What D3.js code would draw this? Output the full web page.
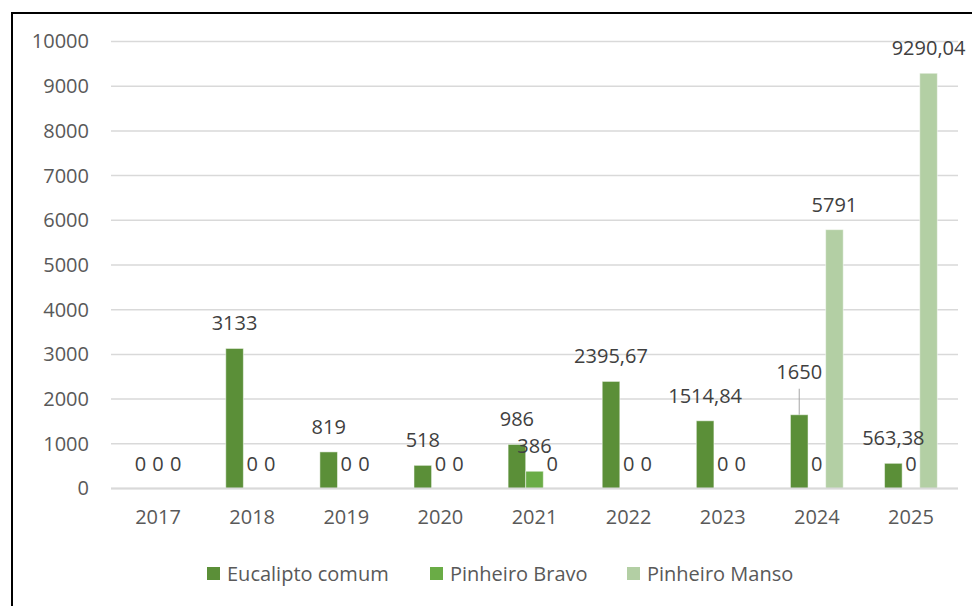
<!doctype html>
<html>
<head>
  <meta charset="utf-8">
  <script src="https://cdnjs.cloudflare.com/ajax/libs/d3/7.8.5/d3.min.js"></script>
  <style>
    body { margin: 0; background: #fff; }
    svg { display: block; font-family: "Open Sans", "Liberation Sans", Arial, sans-serif; }
  </style>
  <title>Chart</title>
</head>
<body>
<svg width="972" height="606"></svg>
<script>
  // data
  var years = ["2017", "2018", "2019", "2020", "2021", "2022", "2023", "2024", "2025"];
  var seriesNames = ["Eucalipto comum", "Pinheiro Bravo", "Pinheiro Manso"];
  var eucalipto = [0, 3133, 819, 518, 986, 2395.67, 1514.84, 1650, 563.38];
  var bravo = [0, 0, 0, 0, 386, 0, 0, 0, 0];
  var manso = [0, 0, 0, 0, 0, 0, 0, 5791, 9290.04];
  var yTicks = [0, 1000, 2000, 3000, 4000, 5000, 6000, 7000, 8000, 9000, 10000];
  var colors = ["#5b8f38", "#6aac46", "#b3cfa4"];

  var FONT = "Open Sans, Liberation Sans, Arial, sans-serif";
  var svg = d3.select("svg");

  // outer frame (runs off the right/bottom of the shot)
  svg.append("rect")
    .attr("x", 12).attr("y", 13)
    .attr("width", 990).attr("height", 640)
    .attr("fill", "none")
    .attr("stroke", "#000")
    .attr("stroke-width", 2);

  var plotL = 111, plotR = 958, plotT = 41.5, plotB = 488.5;

  var x = d3.scaleBand().domain(years).range([plotL, plotR]);
  var y = d3.scaleLinear().domain([0, 10000]).range([plotB, plotT]);
  var barW = 17.6;
  var x1 = d3.scaleBand().domain(seriesNames)
    .range([-1.5 * barW, 1.5 * barW]);

  // gridlines
  svg.append("g")
    .selectAll("line")
    .data(yTicks)
    .enter()
    .append("line")
    .attr("x1", plotL).attr("x2", plotR)
    .attr("y1", d => y(d)).attr("y2", d => y(d))
    .attr("stroke", "#d9d9d9")
    .attr("stroke-width", 1.5);

  // y axis labels
  var yAxis = d3.axisLeft(y).tickValues(yTicks).tickSize(0).tickPadding(0)
    .tickFormat(d3.format("d"));
  var gy = svg.append("g").attr("transform", "translate(89,0)").call(yAxis);
  gy.select(".domain").remove();
  gy.selectAll("text")
    .attr("fill", "#595959")
    .style("font-size", "20px")
    .style("font-family", FONT);

  // x axis labels
  var xAxis = d3.axisBottom(x).tickSize(0).tickPadding(0);
  var gx = svg.append("g").attr("transform", "translate(0," + (plotB + 21) + ")").call(xAxis);
  gx.select(".domain").remove();
  gx.selectAll("text")
    .attr("fill", "#595959")
    .style("font-size", "20px")
    .style("font-family", FONT);

  var series = [eucalipto, bravo, manso];
  var rows = [];
  series.forEach(function (vals, s) {
    vals.forEach(function (v, i) {
      rows.push({ s: s, name: seriesNames[s], year: years[i], v: v });
    });
  });

  var fmt = function (v) {
    return Number.isInteger(v) ? String(v) : v.toFixed(2).replace(".", ",");
  };
  var cx = function (d) {
    return x(d.year) + x.bandwidth() / 2 + x1(d.name) + x1.bandwidth() / 2;
  };

  svg.append("g")
    .selectAll("rect")
    .data(rows.filter(d => d.v > 0))
    .enter()
    .append("rect")
    .attr("x", d => x(d.year) + x.bandwidth() / 2 + x1(d.name))
    .attr("y", d => y(d.v))
    .attr("width", x1.bandwidth())
    .attr("height", d => y(0) - y(d.v))
    .attr("fill", d => colors[d.s])
    .attr("stroke", "#fff")
    .attr("stroke-opacity", 0.5)
    .attr("stroke-width", 1);

  // x axis baseline
  svg.append("line")
    .attr("x1", plotL).attr("x2", plotR)
    .attr("y1", y(0)).attr("y2", y(0))
    .attr("stroke", "#d9d9d9")
    .attr("stroke-width", 2);

  // the 2024 eucalipto label was dragged up in the original, with a leader line
  var lift = function (d) { return (d.s === 0 && d.year === "2024") ? 18 : 0; };

  svg.append("g")
    .selectAll("text")
    .data(rows)
    .enter()
    .append("text")
    .attr("x", cx)
    .attr("y", d => y(d.v) - 18 - lift(d))
    .attr("text-anchor", "middle")
    .attr("fill", "#404040")
    .style("font-size", "20px")
    .text(d => fmt(d.v));

  svg.append("g")
    .selectAll("line")
    .data(rows.filter(d => lift(d) > 0))
    .enter()
    .append("line")
    .attr("x1", cx).attr("x2", cx)
    .attr("y1", d => y(d.v) - lift(d) - 8)
    .attr("y2", d => y(d.v))
    .attr("stroke", "#a6a6a6")
    .attr("stroke-width", 1);

  // legend
  var legendX = [207, 430, 627];
  var lg = svg.append("g")
    .selectAll("g")
    .data(seriesNames)
    .enter()
    .append("g")
    .attr("transform", (d, i) => "translate(" + legendX[i] + ",567)");
  lg.append("rect")
    .attr("width", 13).attr("height", 13)
    .attr("fill", (d, i) => colors[i]);
  lg.append("text")
    .attr("x", 20).attr("y", 13.5)
    .attr("fill", "#595959")
    .style("font-size", "20px")
    .text(d => d);
</script>
</body>
</html>
